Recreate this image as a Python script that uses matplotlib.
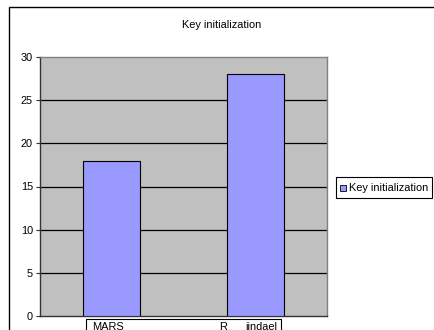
import matplotlib.pyplot as plt
from matplotlib.patches import Rectangle

plt.rcParams['font.family'] = ['Liberation Sans', 'DejaVu Sans']

categories = ["MARS", "Rijndael"]
key_init = [18, 28]
y_ticks = [0, 5, 10, 15, 20, 25, 30]
series_name = "Key initialization"

fs = 7.9

fig = plt.figure(figsize=(4.34, 3.3), dpi=100)
fig.patch.set_facecolor('white')

# chart area frame, runs off the right and bottom edges
fig.add_artist(Rectangle((9 / 434, -0.1), 1.2, 1 - 7 / 330 + 0.1, transform=fig.transFigure,
                         fill=False, edgecolor='black', linewidth=1.0))

ax = fig.add_axes([40 / 434, 14 / 330, 287 / 434, 259 / 330])
ax.set_facecolor('#c0c0c0')

x = range(len(categories))
ax.bar(x, key_init, width=0.4, color='#9999ff', edgecolor='black', linewidth=0.8, zorder=3)

ax.set_xlim(-0.5, len(categories) - 0.5)
ax.set_ylim(0, 30)
ax.set_yticks(y_ticks)
ax.set_yticklabels([str(t) for t in y_ticks], fontsize=fs)
ax.tick_params(axis='y', direction='out', length=3, width=0.8, pad=2, color='#333333')
ax.set_xticks([])
for t in y_ticks[1:-1]:
    ax.axhline(t, color='black', linewidth=0.9, zorder=1)

ax.spines['left'].set_color('#333333')
ax.spines['bottom'].set_color('#333333')
ax.spines['top'].set_color('#808080')
ax.spines['right'].set_color('#808080')
for s in ax.spines.values():
    s.set_linewidth(1.0)

fig.text(222 / 434, 1 - 25 / 330, series_name, ha='center', va='center', fontsize=fs)

# category label box below the axis
fig.add_artist(Rectangle((86 / 434, -0.05), 195 / 434, 0.05 + 1 - 319 / 330,
                         transform=fig.transFigure, fill=False, edgecolor='black', linewidth=0.8))
fig.text(92 / 434, 1 - 327 / 330, categories[0], ha='left', va='center', fontsize=fs)
fig.text(219 / 434, 1 - 327 / 330, categories[1][0], ha='left', va='center', fontsize=fs)
fig.text(245 / 434, 1 - 327 / 330, categories[1][1:], ha='left', va='center', fontsize=fs)

# legend box
fig.add_artist(Rectangle((336 / 434, 1 - 198 / 330), 96 / 434, 21 / 330,
                         transform=fig.transFigure, facecolor='white', edgecolor='black', linewidth=0.8))
fig.add_artist(Rectangle((340 / 434, 1 - 191 / 330), 6 / 434, 6 / 330,
                         transform=fig.transFigure, facecolor='#9999ff', edgecolor='black', linewidth=0.6))
fig.text(349 / 434, 1 - 187.5 / 330, series_name, ha='left', va='center', fontsize=fs)

fig.savefig('out.png', dpi=100)
